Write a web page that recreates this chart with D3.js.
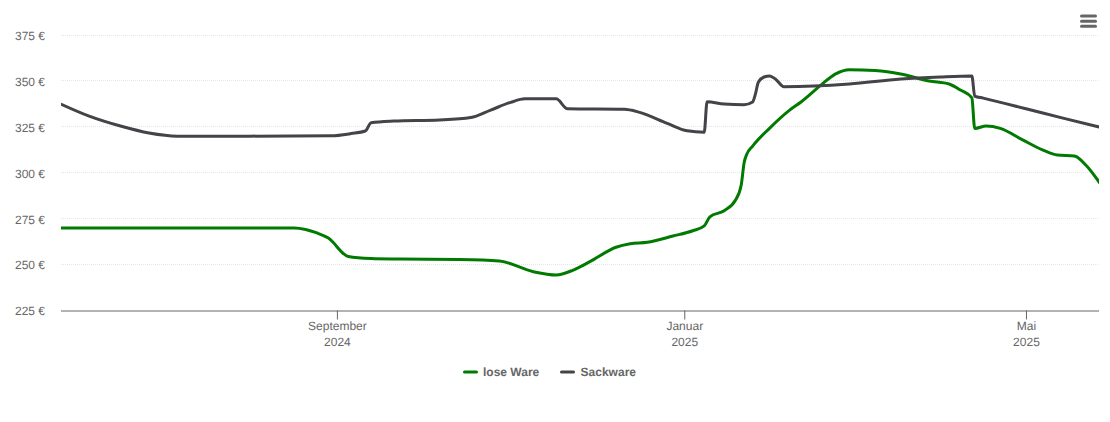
<!DOCTYPE html>
<html>
<head>
<meta charset="utf-8">
<script src="https://cdnjs.cloudflare.com/ajax/libs/d3/7.8.5/d3.min.js"></script>
<style>
  html, body { margin: 0; padding: 0; background: #fff; }
  svg { display: block; font-family: "Liberation Sans", Arial, sans-serif; text-rendering: geometricPrecision; }
  .tick text { fill: #666; font-size: 12px; }
</style>
</head>
<body>
<svg id="chart" width="1110" height="422"></svg>
<script>
var yTicks = [225, 250, 275, 300, 325, 350, 375];
var xTickDates = ["2024-09-01", "2025-01-01", "2025-05-01"];
var xTickMonths = ["September", "Januar", "Mai"];
var xTickYears = ["2024", "2025", "2025"];

var looseDates = ["2024-05-27","2024-08-17","2024-08-21","2024-08-25","2024-08-29","2024-09-05","2024-09-13","2024-09-23","2024-10-14","2024-10-28","2024-11-09","2024-11-17","2024-11-23","2024-11-29","2024-12-08","2024-12-13","2024-12-19","2024-12-28","2025-01-04","2025-01-08","2025-01-10","2025-01-15","2025-01-19","2025-01-21","2025-01-22","2025-01-23","2025-01-25","2025-01-31","2025-02-07","2025-02-11","2025-02-18","2025-02-23","2025-02-28","2025-03-09","2025-03-18","2025-03-28","2025-04-04","2025-04-08","2025-04-12","2025-04-13","2025-04-17","2025-04-22","2025-04-30","2025-05-07","2025-05-12","2025-05-18","2025-05-22","2025-05-27"];
var looseValues = [270.2,270.2,269.4,267.5,264.7,254.7,253.6,253.3,253,252.2,246.4,244.6,247.3,252,259.7,261.6,262.4,265.8,268.7,271.3,276.3,279.6,285.4,293.6,305.6,310.5,314.8,324.6,334.4,338.8,348,354,356.4,355.9,354,350.2,348.6,345.3,341,324.4,325.7,324.4,318,312.6,309.9,309.4,304.5,294.5];

var sackDates = ["2024-05-27","2024-06-06","2024-06-17","2024-06-27","2024-07-07","2024-08-01","2024-08-30","2024-09-06","2024-09-11","2024-09-13","2024-09-21","2024-10-07","2024-10-18","2024-10-25","2024-11-01","2024-11-06","2024-11-17","2024-11-21","2024-12-11","2024-12-16","2024-12-26","2025-01-02","2025-01-08","2025-01-09","2025-01-15","2025-01-22","2025-01-25","2025-01-26","2025-01-27","2025-01-29","2025-01-31","2025-02-02","2025-02-05","2025-02-28","2025-03-18","2025-04-01","2025-04-12","2025-04-13","2025-04-16","2025-05-01","2025-05-14","2025-05-27"];
var sackValues = [337.7,331.1,325.7,321.9,320.2,320.2,320.4,321.6,323,327.5,328.4,329,330.3,334.4,338.6,340.5,340.5,335.1,334.8,333.3,327.2,323.1,322.3,338.9,337.7,337.3,338.8,343.2,349.6,352.4,353,351.3,347.1,348.6,351.3,352.4,352.9,342,340.9,335.1,330,325.1];

var seriesNames = ["lose Ware", "Sackware"];
var seriesColors = ["#007a00", "#434348"];

var parseDate = d3.utcParse("%Y-%m-%d");

var x = d3
  .scaleUtc()
  .domain([parseDate("2024-05-27"), parseDate("2025-05-27")])
  .range([60.7, 1100]);

var y = d3.scaleLinear().domain([225, 375]).range([311, 35.5]);

var svg = d3.select("#chart");

svg
  .append("clipPath")
  .attr("id", "plot")
  .append("rect")
  .attr("x", 61)
  .attr("y", 0)
  .attr("width", 1038)
  .attr("height", 322);

// dotted grid
svg
  .append("g")
  .selectAll("line")
  .data(yTicks.slice(1))
  .enter()
  .append("line")
  .attr("x1", 61)
  .attr("x2", 1099)
  .attr("y1", function (d) {
    return Math.round(y(d)) - 0.5;
  })
  .attr("y2", function (d) {
    return Math.round(y(d)) - 0.5;
  })
  .attr("stroke", "#e6e6e6")
  .attr("stroke-dasharray", "1,1");

// y axis, only the labels are visible
var yAxis = svg
  .append("g")
  .attr("transform", "translate(45,0)")
  .call(
    d3
      .axisLeft(y)
      .tickValues(yTicks)
      .tickSize(0)
      .tickPadding(0)
      .tickFormat(function (d) {
        return d + " €";
      })
  );
yAxis.select(".domain").remove();

// x axis, the 310.5 puts the baseline across two pixels like the reference
var xAxis = svg
  .append("g")
  .attr("transform", "translate(0,310.5)")
  .call(
    d3
      .axisBottom(x)
      .tickValues(xTickDates.map(parseDate))
      .tickSize(9)
      .tickSizeOuter(0)
      .tickFormat("")
  );
xAxis
  .select(".domain")
  .attr("d", "M61,0.5H1099")
  .attr("stroke", "#666")
  .attr("stroke-width", 1);
xAxis.selectAll(".tick line").attr("stroke", "#666");

var xLabels = xAxis.selectAll(".tick text").attr("y", 0).attr("dy", null);
xLabels.each(function (d, i) {
  var label = d3.select(this);
  label.append("tspan").attr("x", 0).attr("y", 19.5).text(xTickMonths[i]);
  label.append("tspan").attr("x", 0).attr("y", 35).text(xTickYears[i]);
});

// lines
var line = d3
  .line()
  .x(function (d) {
    return x(d.date);
  })
  .y(function (d) {
    return y(d.value);
  })
  .curve(d3.curveMonotoneX);

var makeRows = function (dates, values) {
  return dates.map(function (date, i) {
    return { date: parseDate(date), value: values[i] };
  });
};

var allSeries = [makeRows(looseDates, looseValues), makeRows(sackDates, sackValues)];

svg
  .append("g")
  .attr("clip-path", "url(#plot)")
  .selectAll("path")
  .data(allSeries)
  .enter()
  .append("path")
  .attr("d", line)
  .attr("fill", "none")
  .attr("stroke", function (d, i) {
    return seriesColors[i];
  })
  .attr("stroke-width", 3)
  .attr("stroke-linejoin", "round")
  .attr("stroke-linecap", "butt");

// legend
var legendX = [463, 560];
var legendTextX = [20, 20.6];
var legend = svg
  .append("g")
  .selectAll("g")
  .data(seriesNames)
  .enter()
  .append("g")
  .attr("transform", function (d, i) {
    return "translate(" + legendX[i] + ",372)";
  });

legend
  .append("line")
  .attr("x1", 1.5)
  .attr("x2", 13.5)
  .attr("stroke", function (d, i) {
    return seriesColors[i];
  })
  .attr("stroke-width", 3)
  .attr("stroke-linecap", "round");

legend
  .append("text")
  .attr("x", function (d, i) {
    return legendTextX[i];
  })
  .attr("y", 4)
  .attr("fill", "#666")
  .attr("font-size", 12)
  .attr("font-weight", "bold")
  .text(function (d) {
    return d;
  });

// menu button
svg
  .append("g")
  .selectAll("line")
  .data([16, 21.2, 26.2])
  .enter()
  .append("line")
  .attr("x1", 1081.5)
  .attr("x2", 1095.5)
  .attr("y1", function (d) {
    return d;
  })
  .attr("y2", function (d) {
    return d;
  })
  .attr("stroke", "#666")
  .attr("stroke-width", 3)
  .attr("stroke-linecap", "round");
</script>
</body>
</html>
